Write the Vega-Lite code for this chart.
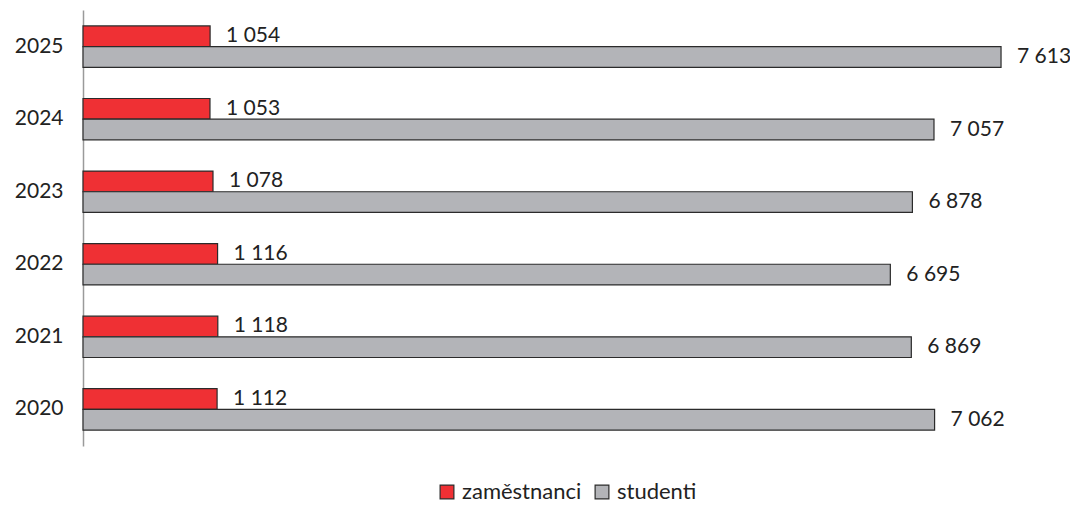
{
  "$schema": "https://vega.github.io/schema/vega-lite/v6.json",
  "autosize": "none",
  "width": 960,
  "height": 436,
  "padding": {"left": 83, "top": 10, "right": 27, "bottom": 60},
  "background": "white",
  "config": {
    "view": {"stroke": null},
    "font": "Lato",
    "locale": {"number": {"decimal": ",", "thousands": " ", "grouping": [3], "currency": ["", " Kč"]}}
  },
  "data": {
    "values": [
      {"year": "2025", "series": "zaměstnanci", "value": 1054},
      {"year": "2025", "series": "studenti", "value": 7613},
      {"year": "2024", "series": "zaměstnanci", "value": 1053},
      {"year": "2024", "series": "studenti", "value": 7057},
      {"year": "2023", "series": "zaměstnanci", "value": 1078},
      {"year": "2023", "series": "studenti", "value": 6878},
      {"year": "2022", "series": "zaměstnanci", "value": 1116},
      {"year": "2022", "series": "studenti", "value": 6695},
      {"year": "2021", "series": "zaměstnanci", "value": 1118},
      {"year": "2021", "series": "studenti", "value": 6869},
      {"year": "2020", "series": "zaměstnanci", "value": 1112},
      {"year": "2020", "series": "studenti", "value": 7062}
    ]
  },
  "encoding": {
    "y": {
      "field": "year",
      "type": "nominal",
      "sort": "descending",
      "scale": {"paddingInner": 0.43, "paddingOuter": 0.22},
      "axis": {
        "title": null,
        "ticks": false,
        "domainColor": "#9a9a9a",
        "domainWidth": 1.5,
        "labelFontSize": 21,
        "labelColor": "#222222",
        "labelPadding": 20,
        "labelFont": "Lato"
      }
    },
    "yOffset": {
      "field": "series",
      "type": "nominal",
      "sort": ["zaměstnanci", "studenti"],
      "scale": {"paddingInner": 0, "paddingOuter": 0}
    },
    "x": {
      "field": "value",
      "type": "quantitative",
      "scale": {"domain": [0, 7961], "nice": false},
      "axis": null
    }
  },
  "layer": [
    {
      "mark": {"type": "bar", "stroke": "#2b2b2b", "strokeWidth": 1.2},
      "encoding": {
        "fill": {
          "field": "series",
          "type": "nominal",
          "sort": ["zaměstnanci", "studenti"],
          "scale": {"domain": ["zaměstnanci", "studenti"], "range": ["#EF3034", "#B3B4B8"]},
          "legend": {
            "title": null,
            "orient": "none",
            "legendX": 353,
            "legendY": 471,
            "direction": "horizontal",
            "symbolType": "square",
            "symbolSize": 190,
            "symbolStrokeColor": "#2b2b2b",
            "symbolStrokeWidth": 1.2,
            "labelFontSize": 22,
            "labelColor": "#222222",
            "labelFont": "Lato",
            "columnPadding": 9,
            "symbolOffset": 0,
            "labelOffset": 4
          }
        }
      }
    },
    {
      "mark": {"type": "text", "align": "left", "baseline": "middle", "dx": 16, "fontSize": 21, "color": "#222222", "font": "Lato"},
      "encoding": {
        "text": {"field": "value", "type": "quantitative", "format": ",d"}
      }
    }
  ]
}
